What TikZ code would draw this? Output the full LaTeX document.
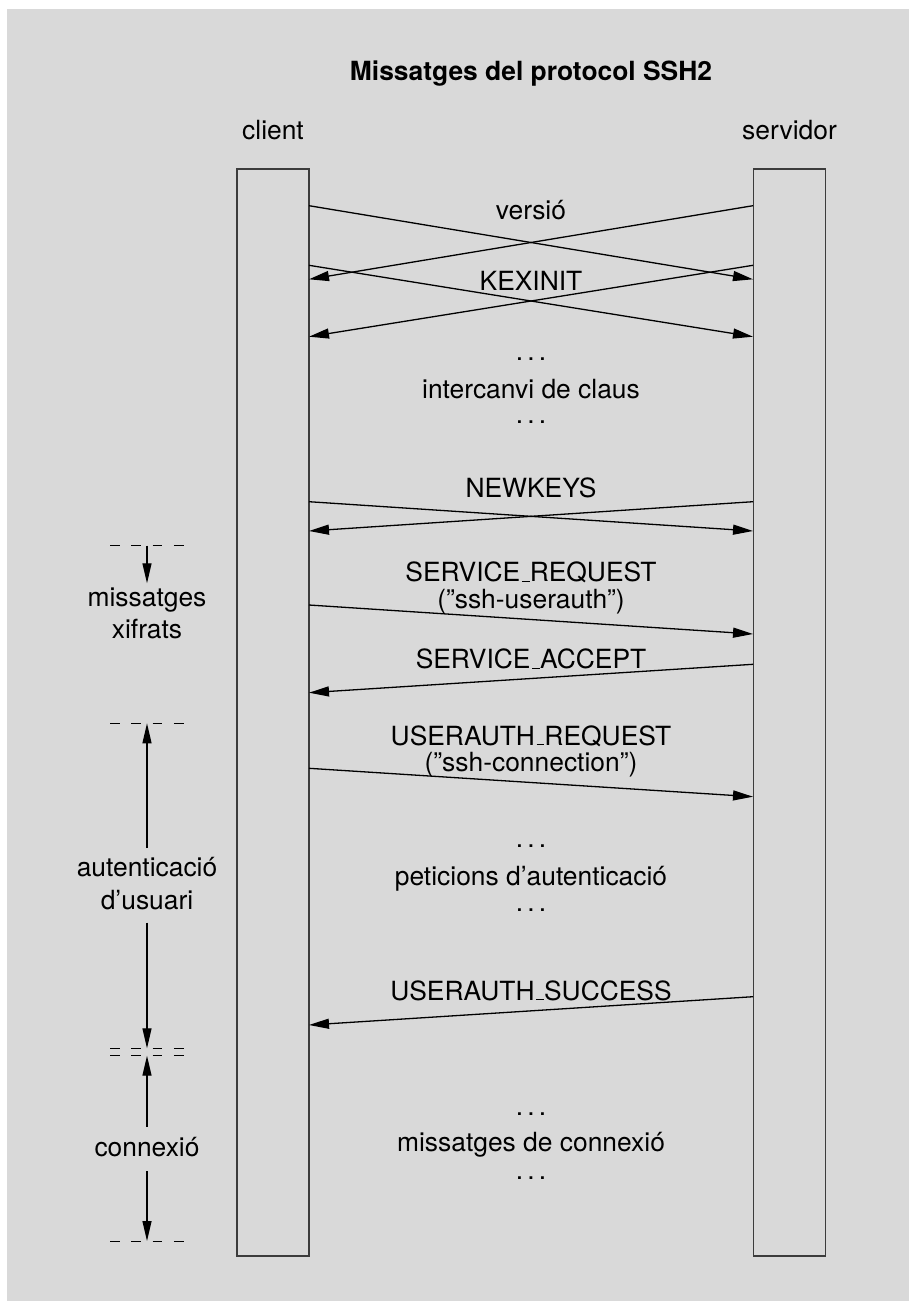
\documentclass[tikz,border=0pt]{standalone}
\usepackage{fontspec}
\setmainfont{TeX Gyre Heros}
\usetikzlibrary{arrows.meta}
\definecolor{bggray}{RGB}{217,217,217}
\definecolor{boxline}{RGB}{60,60,60}
\newcommand{\uscore}{\leavevmode\kern.06em\vbox{\hrule width.3em}}
\newcommand{\dotsthree}{.\kern0.16em.\kern0.16em.}
\tikzset{
  txt/.style={anchor=base, inner sep=0pt, font=\fontsize{13.2}{15}\selectfont},
  ttl/.style={anchor=base, inner sep=0pt, font=\fontsize{13.2}{15}\selectfont\bfseries},
  lifeline/.style={draw=boxline, line width=0.9pt, inner sep=0pt, minimum width=36pt, minimum height=543.5pt},
  msg/.style={line width=0.65pt, -{Triangle[length=10pt,width=5pt]}},
  spanarrow/.style={line width=0.6pt, -{Triangle[length=10pt,width=4.5pt]}},
  phase/.style={line width=0.5pt, dash pattern=on 4.8pt off 5.85pt},
}
\begin{document}
\begin{tikzpicture}[x=0.5pt,y=-0.5pt]
\useasboundingbox (0,0) rectangle (909,1301);
\fill[white] (0,0) rectangle (909,1301);
\fill[bggray] (7,9) rectangle (909,1301);

% title and headings
\node[ttl] (title) at (531,80) {Missatges del protocol SSH2};
\node[txt] (clientlbl) at (273,139) {client};
\node[txt] (serverlbl) at (789.5,139) {servidor};

% lifelines
\node[lifeline] (cbox) at (273,712.5) {};
\node[lifeline] (sbox) at (789.5,712.5) {};

% endpoints on lifelines
\coordinate (c1) at (309,205.7);   \coordinate (s1) at (753,279.3);
\coordinate (s2) at (753,205.7);   \coordinate (c2) at (309,279.3);
\coordinate (c3) at (309,265.3);   \coordinate (s3) at (753,336.7);
\coordinate (s4) at (753,265.3);   \coordinate (c4) at (309,336.7);
\coordinate (c5) at (309,501.7);   \coordinate (s5) at (753,531);
\coordinate (s6) at (753,501.7);   \coordinate (c6) at (309,531);
\coordinate (c7) at (309,605);     \coordinate (s7) at (753,634);
\coordinate (s8) at (753,664.3);   \coordinate (c8) at (309,692.7);
\coordinate (c9) at (309,768.3);   \coordinate (s9) at (753,796.7);
\coordinate (s10) at (753,996.7);  \coordinate (c10) at (309,1025);

% messages
\draw[msg] (c1) -- (s1);
\draw[msg] (s2) -- (c2);
\draw[msg] (c3) -- (s3);
\draw[msg] (s4) -- (c4);
\draw[msg] (c5) -- (s5);
\draw[msg] (s6) -- (c6);
\draw[msg] (c7) -- (s7);
\draw[msg] (s8) -- (c8);
\draw[msg] (c9) -- (s9);
\draw[msg] (s10) -- (c10);

% message labels
\node[txt] (lversio) at (531,219) {versió};
\node[txt] (lkex) at (531,290) {KEXINIT};
\node[txt] (ldots1) at (531,360) {\dotsthree};
\node[txt] (lkx) at (531,398.3) {intercanvi de claus};
\node[txt] (ldots2) at (531,423.3) {\dotsthree};
\node[txt] (lnew) at (531,497.3) {NEWKEYS};
\node[txt] (lsreq) at (531,581.7) {SERVICE\uscore REQUEST};
\node[txt] (lsreqa) at (531,608.3) {(”ssh-userauth”)};
\node[txt] (lsacc) at (531,668.3) {SERVICE\uscore ACCEPT};
\node[txt] (lureq) at (531,745) {USERAUTH\uscore REQUEST};
\node[txt] (lureqa) at (531,771) {(”ssh-connection”)};
\node[txt] (ldots3) at (531,847.7) {\dotsthree};
\node[txt] (lpet) at (531,885) {peticions d’autenticació};
\node[txt] (ldots4) at (531,911.7) {\dotsthree};
\node[txt] (lusucc) at (531,1000) {USERAUTH\uscore SUCCESS};
\node[txt] (ldots5) at (531,1115) {\dotsthree};
\node[txt] (lconn) at (531,1151.7) {missatges de connexió};
\node[txt] (ldots6) at (531,1179) {\dotsthree};

% phase markers (left)
\coordinate (d1l) at (110,545.7);  \coordinate (d1r) at (185,545.7);
\coordinate (d2l) at (110,723.3);  \coordinate (d2r) at (185,723.3);
\coordinate (d3l) at (110,1048.3); \coordinate (d3r) at (185,1048.3);
\coordinate (d4l) at (110,1055.7); \coordinate (d4r) at (185,1055.7);
\coordinate (d5l) at (110,1241);   \coordinate (d5r) at (185,1241);
\draw[phase] (d1l) -- (d1r);
\draw[phase] (d2l) -- (d2r);
\draw[phase] (d3l) -- (d3r);
\draw[phase] (d4l) -- (d4r);
\draw[phase] (d5l) -- (d5r);

\node[txt] (pxif1) at (147,606) {missatges};
\node[txt] (pxif2) at (147,638.3) {xifrats};
\node[txt] (paut1) at (147,876.7) {autenticació};
\node[txt] (paut2) at (147,909.3) {d’usuari};
\node[txt] (pcon) at (147,1156) {connexió};

\coordinate (a1s) at (147,545.7);  \coordinate (a1e) at (147,583.3);
\coordinate (a2s) at (147,848);    \coordinate (a2e) at (147,723.3);
\coordinate (a3s) at (147,922.7);  \coordinate (a3e) at (147,1048.3);
\coordinate (a4s) at (147,1126.7); \coordinate (a4e) at (147,1055.7);
\coordinate (a5s) at (147,1171);   \coordinate (a5e) at (147,1241);
\draw[spanarrow] (a1s) -- (a1e);
\draw[spanarrow] (a2s) -- (a2e);
\draw[spanarrow] (a3s) -- (a3e);
\draw[spanarrow] (a4s) -- (a4e);
\draw[spanarrow] (a5s) -- (a5e);
\end{tikzpicture}
\end{document}
